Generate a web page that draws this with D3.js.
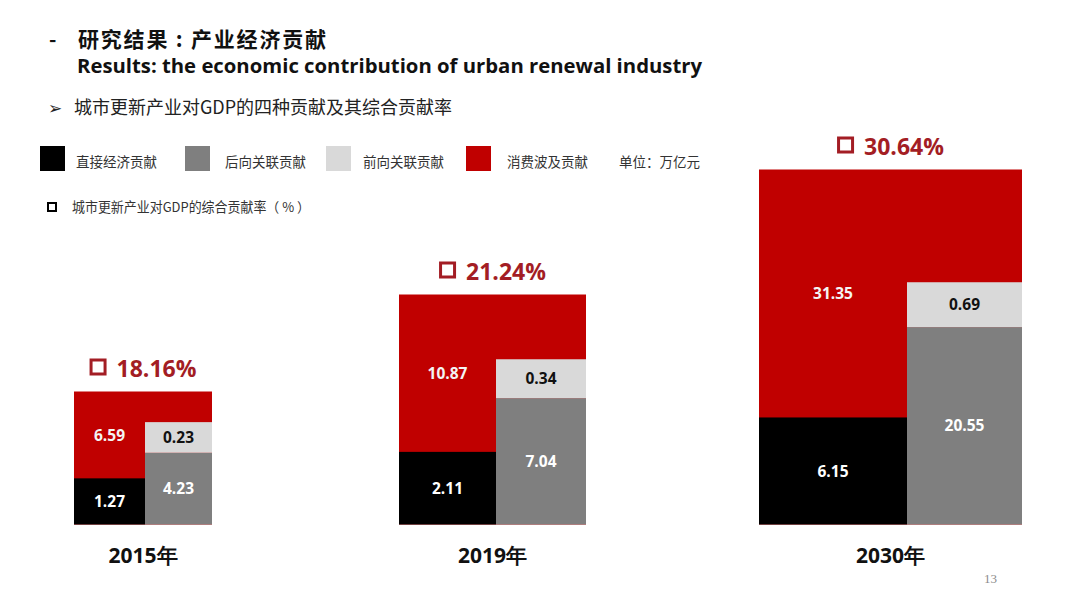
<!DOCTYPE html>
<html>
<head>
<meta charset="utf-8">
<script src="https://cdn.jsdelivr.net/npm/d3@7"></script>
<style>
  html, body { margin: 0; padding: 0; background: #ffffff; }
  svg { display: block; }
</style>
</head>
<body>
<svg id="chart" width="1080" height="608"></svg>
<script>
// ---------------- data ----------------
const years = ["2015年", "2019年", "2030年"];
const directContribution = [1.27, 2.11, 6.15];       // 直接经济贡献 (black)
const backwardContribution = [4.23, 7.04, 20.55];    // 后向关联贡献 (gray)
const forwardContribution = [0.23, 0.34, 0.69];      // 前向关联贡献 (light gray)
const consumptionContribution = [6.59, 10.87, 31.35];// 消费波及贡献 (red)
const totalRates = [18.16, 21.24, 30.64];            // 综合贡献率 (%)
const legendNames = ["直接经济贡献", "后向关联贡献", "前向关联贡献", "消费波及贡献"];
const unitLabel = "单位：万亿元";
const rateLegendLabel = "城市更新产业对GDP的综合贡献率（ % ）";
const titleCN = "研究结果 : 产业经济贡献";
const titleEN = "Results: the economic contribution of urban renewal industry";
const subtitle = "城市更新产业对GDP的四种贡献及其综合贡献率";
const pageNumber = "13";

// ---------------- layout / style ----------------
const colors = { direct: "#000000", backward: "#7f7f7f", forward: "#d9d9d9", consumption: "#c00000", rate: "#a31d24" };
const legendColors = [colors.direct, colors.backward, colors.forward, colors.consumption];
const baseY = 524.5;
const minSeg = 22;           // minimum segment height (room for labels)
// facet boxes: left edge, left column width, right column width, panel height
const panels = [
  { x: 74, lw: 71, rw: 67, h: 133 },
  { x: 399, lw: 97, rw: 90, h: 230 },
  { x: 759, lw: 148, rw: 115, h: 355 }
];
const cjk = "'Noto Sans CJK SC', 'Noto Sans', sans-serif";
const numFont = "'Open Sans', 'Noto Sans', sans-serif";

const svg = d3.select("#chart");

// ---------------- header ----------------
svg.append("text").attr("x", 49).attr("y", 47).attr("font-family", cjk).attr("font-size", 20)
  .attr("font-weight", 700).attr("fill", "#111").text("-");
svg.append("text").attr("x", 78).attr("y", 46.5).attr("font-family", cjk).attr("font-size", 21)
  .attr("font-weight", 700).attr("fill", "#111").attr("textLength", 248).attr("lengthAdjust", "spacing").text(titleCN);
svg.append("text").attr("x", 77).attr("y", 73).attr("font-family", numFont).attr("font-size", 19)
  .attr("font-weight", 700).attr("fill", "#111").attr("textLength", 625).attr("lengthAdjust", "spacingAndGlyphs").text(titleEN);
svg.append("text").attr("x", 48).attr("y", 114).attr("font-family", "'DejaVu Sans', sans-serif").attr("font-size", 17)
  .attr("fill", "#222").text("➢");
svg.append("text").attr("x", 74).attr("y", 114).attr("font-family", cjk).attr("font-size", 18)
  .attr("fill", "#222").attr("textLength", 378).attr("lengthAdjust", "spacingAndGlyphs").text(subtitle);

// ---------------- legend ----------------
const legendSquareX = [40, 185, 326, 466];
const legendTextX = [76, 225, 363, 507];
const leg = svg.append("g");
leg.selectAll("rect").data(legendNames).join("rect")
  .attr("x", (d, i) => legendSquareX[i]).attr("y", 146).attr("width", 25).attr("height", 25)
  .attr("fill", (d, i) => legendColors[i]);
leg.selectAll("text").data(legendNames).join("text")
  .attr("x", (d, i) => legendTextX[i]).attr("y", 167)
  .attr("font-family", cjk).attr("font-size", 13.5).attr("fill", "#333")
  .attr("textLength", 81).attr("lengthAdjust", "spacingAndGlyphs").text(d => d);
svg.append("text").attr("x", 619).attr("y", 167).attr("font-family", cjk).attr("font-size", 13.5)
  .attr("fill", "#333").attr("textLength", 81).attr("lengthAdjust", "spacingAndGlyphs").text(unitLabel);
svg.append("rect").attr("x", 48).attr("y", 203).attr("width", 8).attr("height", 8)
  .attr("fill", "none").attr("stroke", "#000").attr("stroke-width", 2);
svg.append("text").attr("x", 72).attr("y", 212).attr("font-family", cjk).attr("font-size", 13.5)
  .attr("fill", "#333").attr("textLength", 238).attr("lengthAdjust", "spacingAndGlyphs").text(rateLegendLabel);

// ---------------- panels ----------------
const unitPow = d3.scalePow().exponent(0.6).domain([0, 1]).range([0, 1]);

years.forEach((year, i) => {
  const p = panels[i];
  const g = svg.append("g");
  // per-panel height scale: value -> segment height (pow scale with a minimum for labels)
  const k = (p.h - 2 * minSeg) / (unitPow(directContribution[i]) + unitPow(consumptionContribution[i]));
  const hScale = d3.scalePow().exponent(0.6).domain([0, 1]).range([minSeg, minSeg + k]);

  const hDirect = hScale(directContribution[i]);
  const hCons = hScale(consumptionContribution[i]);
  const hBack = hScale(backwardContribution[i]);
  const hFwd = hScale(forwardContribution[i]);
  const leftTotal = hDirect + hCons;
  const xL = p.x, xR = p.x + p.lw, wAll = p.lw + p.rw;

  // red consumption block spans the group behind the right column
  g.append("rect").attr("x", xL).attr("y", baseY - leftTotal).attr("width", wAll).attr("height", leftTotal)
    .attr("fill", colors.consumption);
  g.append("rect").attr("x", xL).attr("y", baseY - hDirect).attr("width", p.lw).attr("height", hDirect)
    .attr("fill", colors.direct);
  g.append("rect").attr("x", xR).attr("y", baseY - hBack).attr("width", p.rw).attr("height", hBack)
    .attr("fill", colors.backward);
  g.append("rect").attr("x", xR).attr("y", baseY - hBack - hFwd).attr("width", p.rw).attr("height", hFwd)
    .attr("fill", colors.forward);

  const label = (x, yc, txt, fill) => g.append("text").attr("x", x).attr("y", yc)
    .attr("dy", "0.36em").attr("text-anchor", "middle").attr("font-family", numFont)
    .attr("font-size", 15.5).attr("font-weight", 700).attr("fill", fill).text(txt);
  const fmt = d3.format(".2f");
  label(xL + p.lw / 2, baseY - hDirect / 2, fmt(directContribution[i]), "#ffffff");
  label(xL + p.lw / 2, baseY - hDirect - hCons / 2, fmt(consumptionContribution[i]), "#f4f4f4");
  label(xR + p.rw / 2, baseY - hBack / 2, fmt(backwardContribution[i]), "#ffffff");
  label(xR + p.rw / 2, baseY - hBack - hFwd / 2, fmt(forwardContribution[i]), "#111111");

  // rate label: outlined square + percent
  const cx = xL + wAll / 2;
  const rateY = baseY - leftTotal - 15;
  const rg = g.append("g");
  const rt = rg.append("text").attr("x", 0).attr("y", rateY).attr("font-family", numFont)
    .attr("font-size", 23).attr("font-weight", 700).attr("fill", colors.rate)
    .text(d3.format(".2f")(totalRates[i]) + "%");
  const tw = rt.node().getComputedTextLength();
  const sq = 14, gap = 13;
  const total = sq + gap + tw;
  const startX = cx - total / 2;
  rg.insert("rect", "text").attr("x", startX + 1.5).attr("y", rateY - 16.5).attr("width", sq).attr("height", sq)
    .attr("fill", "none").attr("stroke", colors.rate).attr("stroke-width", 3);
  rt.attr("x", startX + sq + gap);

  // year label
  g.append("text").attr("x", cx).attr("y", 563).attr("text-anchor", "middle")
    .attr("font-family", numFont).attr("font-size", 21).attr("font-weight", 700).attr("fill", "#111")
    .text(year);
});

// page number
svg.append("text").attr("x", 984).attr("y", 583).attr("font-family", "'Liberation Serif', serif")
  .attr("font-size", 13).attr("fill", "#8c8c8c").text(pageNumber);
</script>
</body>
</html>
